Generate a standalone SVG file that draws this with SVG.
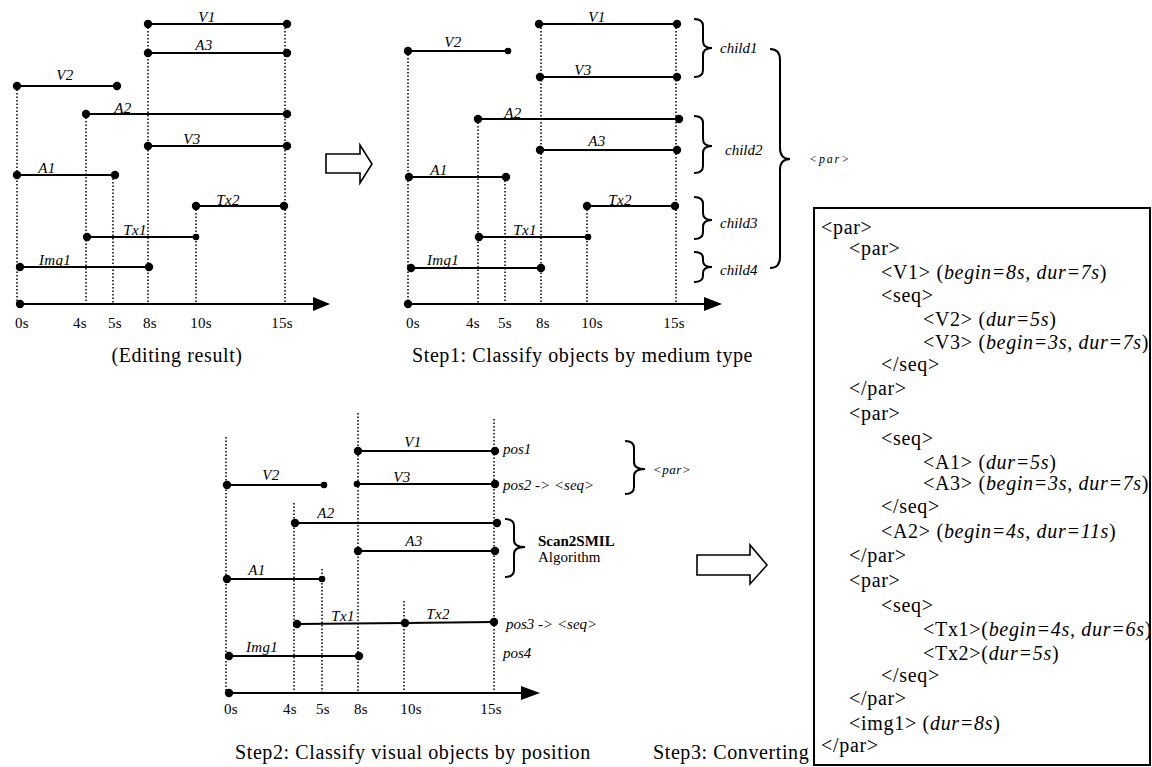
<svg xmlns="http://www.w3.org/2000/svg" width="1152" height="767" viewBox="0 0 1152 767">
<style>
.ln{stroke:#000;stroke-width:2;fill:none}
.dt{stroke:#000;stroke-width:1.5;stroke-dasharray:1.5 2;fill:none}
.br{stroke:#000;stroke-width:2;fill:none}
.ha{stroke:#000;stroke-width:1.6;fill:#fff}
text{font-family:"Liberation Serif","Times New Roman",serif;fill:#000}
.lb{font-size:15px;font-style:italic;text-anchor:middle;letter-spacing:0.3px}
.ax{font-size:15px;text-anchor:middle;letter-spacing:0.3px}
.cap{font-size:20px;letter-spacing:0.6px}
.sm{font-size:15px;font-style:italic}
.code{font-size:20px;letter-spacing:0.7px}
.it{font-style:italic}
</style>
<defs>
<circle id="d" r="4.2" fill="#000"/>
<circle id="s" r="3.3" fill="#000"/>
</defs>

<!-- ===== Panel 1: Editing result ===== -->
<g id="panel1">
  <g id="p1-grid">
    <line class="dt" x1="17" y1="86" x2="17" y2="304"/>
    <line class="dt" x1="86" y1="114" x2="86" y2="304"/>
    <line class="dt" x1="113" y1="175" x2="113" y2="304"/>
    <line class="dt" x1="148" y1="24" x2="148" y2="304"/>
    <line class="dt" x1="196" y1="206" x2="196" y2="304"/>
    <line class="dt" x1="285" y1="24" x2="285" y2="304"/>
  </g>
  <g id="p1-axis">
    <line class="ln" x1="20" y1="304" x2="315" y2="304"/>
    <polygon points="313,297 330,304 313,311" fill="#000"/>
    <use href="#d" x="20" y="304"/>
    <text class="ax" x="22" y="328">0s</text>
    <text class="ax" x="80" y="328">4s</text>
    <text class="ax" x="115" y="328">5s</text>
    <text class="ax" x="150" y="328">8s</text>
    <text class="ax" x="201" y="328">10s</text>
    <text class="ax" x="282" y="328">15s</text>
  </g>
  <g id="p1-V1"><line class="ln" x1="148" y1="24" x2="287" y2="24"/><use href="#d" x="148" y="24"/><use href="#d" x="287" y="24"/><text class="lb" x="207" y="22">V1</text></g>
  <g id="p1-A3"><line class="ln" x1="148" y1="53" x2="287" y2="53"/><use href="#d" x="148" y="53"/><use href="#d" x="287" y="53"/><text class="lb" x="204" y="50">A3</text></g>
  <g id="p1-V2"><line class="ln" x1="17" y1="86" x2="117" y2="86"/><use href="#d" x="17" y="86"/><use href="#d" x="117" y="86"/><text class="lb" x="65" y="80">V2</text></g>
  <g id="p1-A2"><line class="ln" x1="86" y1="114" x2="287" y2="114"/><use href="#d" x="86" y="114"/><use href="#d" x="287" y="114"/><text class="lb" x="123" y="113">A2</text></g>
  <g id="p1-V3"><line class="ln" x1="148" y1="146" x2="287" y2="146"/><use href="#d" x="148" y="146"/><use href="#d" x="287" y="146"/><text class="lb" x="192" y="144">V3</text></g>
  <g id="p1-A1"><line class="ln" x1="17" y1="175" x2="115" y2="175"/><use href="#d" x="17" y="175"/><use href="#d" x="115" y="175"/><text class="lb" x="47" y="173">A1</text></g>
  <g id="p1-Tx2"><line class="ln" x1="196" y1="206" x2="284" y2="206"/><use href="#d" x="196" y="206"/><use href="#d" x="284" y="206"/><text class="lb" x="228" y="205">Tx2</text></g>
  <g id="p1-Tx1"><line class="ln" x1="87" y1="237" x2="196" y2="237"/><use href="#d" x="87" y="237"/><use href="#s" x="196" y="237"/><text class="lb" x="135" y="235">Tx1</text></g>
  <g id="p1-Img1"><line class="ln" x1="20" y1="267" x2="149" y2="267"/><use href="#d" x="20" y="267"/><use href="#d" x="149" y="267"/><text class="lb" x="55" y="265">Img1</text></g>
  <text class="cap" x="177" y="362" text-anchor="middle">(Editing result)</text>
</g>

<!-- ===== Panel 2: Step1 ===== -->
<g id="panel2">
  <g id="p2-grid">
    <line class="dt" x1="408" y1="51" x2="408" y2="304"/>
    <line class="dt" x1="478" y1="119" x2="478" y2="304"/>
    <line class="dt" x1="505" y1="177" x2="505" y2="304"/>
    <line class="dt" x1="541" y1="24" x2="541" y2="304"/>
    <line class="dt" x1="587" y1="206" x2="587" y2="304"/>
    <line class="dt" x1="676" y1="24" x2="676" y2="304"/>
  </g>
  <g id="p2-axis">
    <line class="ln" x1="408" y1="304" x2="707" y2="304"/>
    <polygon points="704,297 722,304 704,311" fill="#000"/>
    <use href="#d" x="408" y="304"/>
    <text class="ax" x="413" y="328">0s</text>
    <text class="ax" x="473" y="328">4s</text>
    <text class="ax" x="505" y="328">5s</text>
    <text class="ax" x="543" y="328">8s</text>
    <text class="ax" x="592" y="328">10s</text>
    <text class="ax" x="674" y="328">15s</text>
  </g>
  <g id="p2-V1"><line class="ln" x1="539" y1="24" x2="677" y2="24"/><use href="#d" x="539" y="24"/><use href="#d" x="677" y="24"/><text class="lb" x="597" y="22">V1</text></g>
  <g id="p2-V2"><line class="ln" x1="408" y1="51" x2="508" y2="51"/><use href="#d" x="408" y="51"/><use href="#s" x="508" y="51"/><text class="lb" x="453" y="47">V2</text></g>
  <g id="p2-V3"><line class="ln" x1="540" y1="77" x2="677" y2="77"/><use href="#d" x="540" y="77"/><use href="#d" x="677" y="77"/><text class="lb" x="583" y="75">V3</text></g>
  <g id="p2-A2"><line class="ln" x1="478" y1="119" x2="679" y2="119"/><use href="#d" x="478" y="119"/><use href="#d" x="679" y="119"/><text class="lb" x="513" y="118">A2</text></g>
  <g id="p2-A3"><line class="ln" x1="540" y1="150" x2="677" y2="150"/><use href="#d" x="540" y="150"/><use href="#d" x="677" y="150"/><text class="lb" x="597" y="146">A3</text></g>
  <g id="p2-A1"><line class="ln" x1="409" y1="177" x2="506" y2="177"/><use href="#d" x="409" y="177"/><use href="#d" x="506" y="177"/><text class="lb" x="439" y="175">A1</text></g>
  <g id="p2-Tx2"><line class="ln" x1="587" y1="206" x2="675" y2="206"/><use href="#d" x="587" y="206"/><use href="#d" x="675" y="206"/><text class="lb" x="620" y="205">Tx2</text></g>
  <g id="p2-Tx1"><line class="ln" x1="479" y1="237" x2="588" y2="237"/><use href="#d" x="479" y="237"/><use href="#s" x="588" y="237"/><text class="lb" x="525" y="235">Tx1</text></g>
  <g id="p2-Img1"><line class="ln" x1="411" y1="268" x2="541" y2="268"/><use href="#d" x="411" y="268"/><use href="#d" x="541" y="268"/><text class="lb" x="443" y="265">Img1</text></g>
  <g id="p2-child1"><text class="sm" x="720" y="53">child1</text></g>
  <g id="p2-child2"><text class="sm" x="725" y="155">child2</text></g>
  <g id="p2-child3"><text class="sm" x="720" y="228">child3</text></g>
  <g id="p2-child4"><text class="sm" x="720" y="275">child4</text></g>
  <g id="p2-par"><text class="it" x="809" y="163" font-size="12" letter-spacing="1.8">&lt;par&gt;</text></g>
  <text class="cap" x="412" y="362">Step1: Classify objects by medium type</text>
</g>

<!-- ===== Panel 3: Step2 ===== -->
<g id="panel3">
  <g id="p3-grid">
    <line class="dt" x1="226" y1="437" x2="226" y2="693"/>
    <line class="dt" x1="294" y1="503" x2="294" y2="693"/>
    <line class="dt" x1="322" y1="569" x2="322" y2="693"/>
    <line class="dt" x1="358" y1="413" x2="358" y2="693"/>
    <line class="dt" x1="404" y1="601" x2="404" y2="693"/>
    <line class="dt" x1="494" y1="419" x2="494" y2="693"/>
  </g>
  <g id="p3-axis">
    <line class="ln" x1="229" y1="693" x2="524" y2="693"/>
    <polygon points="521,686 540,693 521,700" fill="#000"/>
    <use href="#d" x="229" y="693"/>
    <text class="ax" x="231" y="714">0s</text>
    <text class="ax" x="290" y="714">4s</text>
    <text class="ax" x="323" y="714">5s</text>
    <text class="ax" x="361" y="714">8s</text>
    <text class="ax" x="411" y="714">10s</text>
    <text class="ax" x="491" y="714">15s</text>
  </g>
  <g id="p3-V1"><line class="ln" x1="358" y1="451" x2="495" y2="451"/><use href="#d" x="358" y="451"/><use href="#d" x="495" y="451"/><text class="lb" x="413" y="447">V1</text></g>
  <g id="p3-V2"><line class="ln" x1="227" y1="485" x2="324" y2="485"/><use href="#d" x="227" y="485"/><use href="#s" x="324" y="485"/><text class="lb" x="271" y="480">V2</text></g>
  <g id="p3-V3"><line class="ln" x1="357" y1="484" x2="495" y2="484"/><use href="#s" x="357" y="484"/><use href="#d" x="495" y="484"/><text class="lb" x="402" y="482">V3</text></g>
  <g id="p3-A2"><line class="ln" x1="295" y1="523" x2="497" y2="523"/><use href="#d" x="295" y="523"/><use href="#d" x="497" y="523"/><text class="lb" x="326" y="518">A2</text></g>
  <g id="p3-A3"><line class="ln" x1="358" y1="551" x2="495" y2="551"/><use href="#d" x="358" y="551"/><use href="#d" x="495" y="551"/><text class="lb" x="414" y="546">A3</text></g>
  <g id="p3-A1"><line class="ln" x1="227" y1="579" x2="322" y2="579"/><use href="#d" x="227" y="579"/><use href="#s" x="322" y="579"/><text class="lb" x="257" y="575">A1</text></g>
  <g id="p3-Tx1"><line class="ln" x1="297" y1="624" x2="405" y2="623"/><use href="#d" x="297" y="624"/><text class="lb" x="343" y="621">Tx1</text></g>
  <g id="p3-Tx2"><line class="ln" x1="405" y1="623" x2="494" y2="622"/><use href="#d" x="405" y="623"/><use href="#d" x="494" y="622"/><text class="lb" x="438" y="619">Tx2</text></g>
  <g id="p3-Img1"><line class="ln" x1="229" y1="656" x2="359" y2="656"/><use href="#d" x="229" y="656"/><use href="#d" x="359" y="656"/><text class="lb" x="262" y="652">Img1</text></g>
  <g id="p3-pos1"><text class="sm" x="503" y="454">pos1</text></g>
  <g id="p3-pos2"><text class="sm" x="503" y="490">pos2 -&gt; &lt;seq&gt;</text></g>
  <g id="p3-pos3"><text class="sm" x="506" y="629">pos3 -&gt; &lt;seq&gt;</text></g>
  <g id="p3-pos4"><text class="sm" x="503" y="658">pos4</text></g>
  <g id="p3-par"><text class="it" x="653" y="474" font-size="13" letter-spacing="0.5">&lt;par&gt;</text></g>
  <g id="p3-scan"><text x="538" y="546" font-size="15" font-weight="bold">Scan2SMIL</text><text x="538" y="562" font-size="15">Algorithm</text></g>
  <text class="cap" x="235" y="759">Step2: Classify visual objects by position</text>
  <text class="cap" x="653" y="759">Step3: Converting</text>
</g>

<!-- ===== Connectors: braces and hollow arrows ===== -->
<g id="connectors">
  <path class="br" d="M694,19 Q703,19 703,26 L703,41 Q703,48 712,48 Q703,48 703,55 L703,70 Q703,77 694,77"/>
  <path class="br" d="M694,116 Q703,116 703,123 L703,139 Q703,146 712,146 Q703,146 703,153 L703,166 Q703,173 694,173"/>
  <path class="br" d="M694,197 Q703,197 703,204 L703,213 Q703,220 712,220 Q703,220 703,227 L703,232 Q703,239 694,239"/>
  <path class="br" d="M694,252 Q703,252 703,258 L703,261 Q703,267 712,267 Q703,267 703,273 L703,276 Q703,282 694,282"/>
  <path class="br" d="M770,49 Q780,49 780,60 L780,148 Q780,159 790,159 Q780,159 780,170 L780,257 Q780,268 770,268"/>
  <path class="br" d="M625,441 Q634,441 634,448 L634,462 Q634,469 645,469 Q634,469 634,476 L634,487 Q634,494 625,494"/>
  <path class="br" d="M505,519 Q514,519 514,526 L514,540 Q514,547 525,547 Q514,547 514,554 L514,570 Q514,577 505,577"/>
  <polygon class="ha" points="326,154 360,154 360,145 372,164 360,183 360,173 326,173"/>
  <polygon class="ha" points="697,555 750,555 750,545 767,565 750,584 750,575 697,575"/>
</g>

<!-- ===== Step3 SMIL box ===== -->
<g id="smil-box">
  <rect x="814" y="208" width="336" height="557" fill="#fff" stroke="#000" stroke-width="2"/>
  <g class="code">
    <text class="code" x="821" y="234">&lt;par&gt;</text>
    <text class="code" x="849" y="255">&lt;par&gt;</text>
    <text class="code" x="881" y="279">&lt;V1&gt; (<tspan class="it">begin=8s, dur=7s</tspan>)</text>
    <text class="code" x="881" y="302">&lt;seq&gt;</text>
    <text class="code" x="923" y="326">&lt;V2&gt; (<tspan class="it">dur=5s</tspan>)</text>
    <text class="code" x="923" y="349">&lt;V3&gt; (<tspan class="it">begin=3s, dur=7s</tspan>)</text>
    <text class="code" x="881" y="371">&lt;/seq&gt;</text>
    <text class="code" x="849" y="395">&lt;/par&gt;</text>
    <text class="code" x="849" y="420">&lt;par&gt;</text>
    <text class="code" x="881" y="445">&lt;seq&gt;</text>
    <text class="code" x="923" y="469">&lt;A1&gt; (<tspan class="it">dur=5s</tspan>)</text>
    <text class="code" x="923" y="490">&lt;A3&gt; (<tspan class="it">begin=3s, dur=7s</tspan>)</text>
    <text class="code" x="881" y="513">&lt;/seq&gt;</text>
    <text class="code" x="881" y="538">&lt;A2&gt; (<tspan class="it">begin=4s, dur=11s</tspan>)</text>
    <text class="code" x="849" y="562">&lt;/par&gt;</text>
    <text class="code" x="849" y="587">&lt;par&gt;</text>
    <text class="code" x="881" y="612">&lt;seq&gt;</text>
    <text class="code" x="923" y="636">&lt;Tx1&gt;(<tspan class="it">begin=4s, dur=6s</tspan>)</text>
    <text class="code" x="923" y="660">&lt;Tx2&gt;(<tspan class="it">dur=5s</tspan>)</text>
    <text class="code" x="881" y="682">&lt;/seq&gt;</text>
    <text class="code" x="849" y="705">&lt;/par&gt;</text>
    <text class="code" x="849" y="730">&lt;img1&gt; (<tspan class="it">dur=8s</tspan>)</text>
    <text class="code" x="821" y="752">&lt;/par&gt;</text>
  </g>
</g>
</svg>
